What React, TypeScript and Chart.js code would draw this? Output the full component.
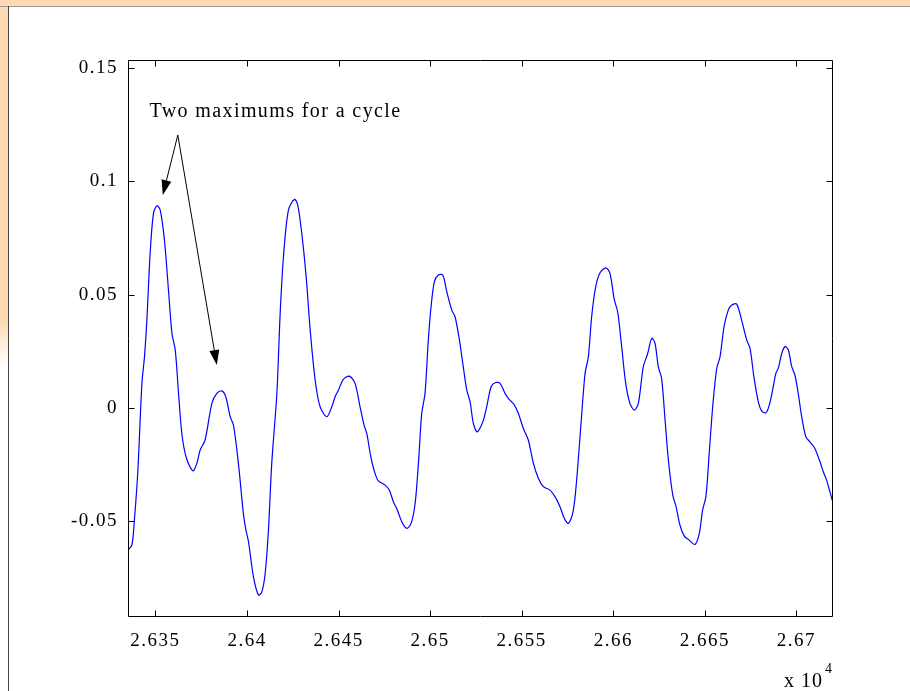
import React, { useEffect, useRef } from "react";
import { Chart, registerables } from "chart.js";

Chart.register(...registerables);

// ---- data (x in raw units, shown as x 10^4) ----
const xValues = [
  26334.9, 26337.1, 26338.5, 26340.4, 26342.6, 26344.0, 26345.3, 26347.1, 26348.9, 26350.8,
  26352.6, 26354.9, 26357.1, 26359.0, 26360.8, 26362.6, 26364.4, 26366.8, 26370.4, 26372.6,
  26374.4, 26377.1, 26380.8, 26383.5, 26386.2, 26388.4, 26390.8, 26392.6, 26395.3, 26398.0,
  26399.4, 26400.8, 26403.5, 26406.2, 26408.1, 26409.9, 26411.7, 26413.5, 26416.3, 26418.1,
  26419.9, 26422.6, 26425.9, 26427.7, 26429.9, 26432.3, 26434.5, 26437.2, 26439.9, 26443.6,
  26446.3, 26448.1, 26449.9, 26452.6, 26455.9, 26459.0, 26461.7, 26463.9, 26465.4, 26467.6,
  26469.9, 26471.7, 26475.4, 26477.7, 26479.9, 26482.1, 26484.5, 26487.2, 26489.6, 26491.8,
  26493.6, 26495.4, 26497.2, 26499.0, 26500.5, 26502.3, 26504.5, 26506.9, 26509.1, 26511.8,
  26513.6, 26516.0, 26518.1, 26520.0, 26521.8, 26523.6, 26525.5, 26526.7, 26529.1, 26530.9,
  26533.3, 26535.8, 26538.2, 26540.9, 26542.7, 26546.0, 26548.2, 26550.9, 26553.6, 26556.4,
  26559.1, 26561.8, 26565.5, 26568.2, 26570.9, 26573.3, 26575.5, 26578.2, 26580.0, 26582.4,
  26584.6, 26586.4, 26588.2, 26590.4, 26592.8, 26596.0, 26598.2, 26600.6, 26602.4, 26604.6,
  26606.8, 26609.1, 26611.5, 26613.7, 26616.4, 26618.8, 26621.0, 26622.8, 26624.6, 26626.4,
  26628.3, 26630.1, 26632.5, 26634.3, 26636.4, 26638.8, 26641.5, 26644.6, 26647.0, 26648.8,
  26650.6, 26652.4, 26654.3, 26656.5, 26658.3, 26660.5, 26662.8, 26664.7, 26667.4, 26670.1,
  26672.9, 26674.7, 26676.8, 26679.2, 26681.0, 26683.4, 26685.2, 26687.0, 26688.8, 26690.1,
  26692.0, 26693.8, 26695.6, 26697.4, 26699.2, 26701.0, 26702.9, 26705.2, 26707.4, 26710.1,
  26712.9, 26714.7, 26716.5, 26718.3, 26719.8,
];

const yValues = [
  -0.0627, -0.0605, -0.0494, -0.0274, 0.0109, 0.0226, 0.0388, 0.0683, 0.0859, 0.0893,
  0.0874, 0.0741, 0.0521, 0.033, 0.0256, 0.0065, -0.0112, -0.0218, -0.0277, -0.0244,
  -0.0185, -0.0141, 0.0021, 0.0065, 0.0076, 0.005, -0.0038, -0.0075, -0.0244, -0.0465,
  -0.0538, -0.059, -0.0744, -0.0825, -0.0811, -0.073, -0.0538, -0.0244, 0.0065, 0.0418,
  0.0668, 0.0874, 0.0921, 0.0896, 0.0771, 0.058, 0.0344, 0.0124, 0.0006, -0.0038,
  0.0006, 0.005, 0.0079, 0.0127, 0.0141, 0.0109, 0.0006, -0.0075, -0.0112, -0.0215,
  -0.0288, -0.0321, -0.034, -0.0362, -0.0413, -0.045, -0.0502, -0.0531, -0.0509, -0.0421,
  -0.0244, -0.0024, 0.0065, 0.03, 0.0447, 0.0557, 0.0587, 0.0587, 0.0513, 0.0432,
  0.0403, 0.03, 0.0182, 0.0079, 0.0028, -0.0068, -0.0105, -0.0097, -0.0053, 0.0006,
  0.0094, 0.0113, 0.0109, 0.0065, 0.0043, 0.0013, -0.0024, -0.009, -0.0141, -0.0244,
  -0.031, -0.0347, -0.0362, -0.0391, -0.0435, -0.0487, -0.0509, -0.045, -0.0318, -0.0068,
  0.0153, 0.0226, 0.0403, 0.0535, 0.0597, 0.0619, 0.0594, 0.0477, 0.0425, 0.0271,
  0.0109, 0.0021, -0.0009, 0.0021, 0.0182, 0.0241, 0.0308, 0.0286, 0.0182, 0.0131,
  -0.0053, -0.0229, -0.0384, -0.0435, -0.0516, -0.0565, -0.0583, -0.0602, -0.0553, -0.045,
  -0.0391, -0.02, 0.0006, 0.0175, 0.0226, 0.0359, 0.0432, 0.0455, 0.0459, 0.0388,
  0.03, 0.0263, 0.0138, 0.0028, -0.0012, -0.0021, 0.0013, 0.0079, 0.0153, 0.0175,
  0.0241, 0.0271, 0.0256, 0.0185, 0.0146, 0.0065, -0.0038, -0.0127, -0.0149, -0.0178,
  -0.0237, -0.0281, -0.0318, -0.0369, -0.0413,
];

const xTickValues = [26350, 26400, 26450, 26500, 26550, 26600, 26650, 26700];
const xTickLabels = ["2.635", "2.64", "2.645", "2.65", "2.655", "2.66", "2.665", "2.67"];
const yTickValues = [-0.05, 0, 0.05, 0.1, 0.15];
const yTickLabels = ["-0.05", "0", "0.05", "0.1", "0.15"];
const xLimits = [26335, 26720];
const yLimits = [-0.0922, 0.1536];

const annotationText = "Two maximums for a cycle";
const annotationTextAt = [26346.7, 0.1286];
const arrowFrom = [26362.2, 0.1205];
const arrowTips = [
  [26354.0, 0.094],
  [26383.5, 0.019],
];
const exponentBase = "x 10";
const exponentPower = "4";

const FONT = '"Liberation Serif", "Times New Roman", serif';
const PEACH = "#fdd9b2";

const framePlugin = {
  id: "matlabFrame",
  beforeDraw(chart: any) {
    chart.ctx.letterSpacing = "1.5px";
  },
  afterDraw(chart: any) {
    const { ctx, chartArea: a, scales } = chart;
    const xs = scales.x;
    const ys = scales.y;
    ctx.save();
    ctx.strokeStyle = "#000";
    ctx.lineWidth = 1;
    const L = Math.round(a.left) + 0.5;
    const R = Math.round(a.right) - 0.5;
    const T = Math.round(a.top) + 0.5;
    const B = Math.round(a.bottom) - 0.5;
    ctx.beginPath();
    ctx.rect(L, T, R - L, B - T);
    const tl = 6;
    xTickValues.forEach((v) => {
      const px = Math.round(xs.getPixelForValue(v)) + 0.5;
      ctx.moveTo(px, B);
      ctx.lineTo(px, B - tl);
      ctx.moveTo(px, T);
      ctx.lineTo(px, T + tl);
    });
    yTickValues.forEach((v) => {
      const py = Math.round(ys.getPixelForValue(v)) + 0.5;
      ctx.moveTo(L, py);
      ctx.lineTo(L + tl, py);
      ctx.moveTo(R, py);
      ctx.lineTo(R - tl, py);
    });
    ctx.stroke();

    // annotation text
    ctx.fillStyle = "#000";
    ctx.font = `20px ${FONT}`;
    ctx.letterSpacing = "1.4px";
    ctx.textAlign = "left";
    ctx.textBaseline = "alphabetic";
    ctx.fillText(
      annotationText,
      xs.getPixelForValue(annotationTextAt[0]),
      ys.getPixelForValue(annotationTextAt[1])
    );

    // arrows
    const fx = xs.getPixelForValue(arrowFrom[0]);
    const fy = ys.getPixelForValue(arrowFrom[1]);
    arrowTips.forEach(([tx, ty]) => {
      const px = xs.getPixelForValue(tx);
      const py = ys.getPixelForValue(ty);
      const ang = Math.atan2(py - fy, px - fx);
      const hl = 15;
      const hw = 5;
      const bx = px - hl * Math.cos(ang);
      const by = py - hl * Math.sin(ang);
      ctx.beginPath();
      ctx.moveTo(fx, fy);
      ctx.lineTo(bx, by);
      ctx.stroke();
      ctx.beginPath();
      ctx.moveTo(px, py);
      ctx.lineTo(bx + hw * Math.sin(ang), by - hw * Math.cos(ang));
      ctx.lineTo(bx - hw * Math.sin(ang), by + hw * Math.cos(ang));
      ctx.closePath();
      ctx.fill();
    });

    // x 10^4 multiplier
    ctx.font = `20px ${FONT}`;
    ctx.letterSpacing = "1px";
    ctx.textAlign = "right";
    ctx.fillText(exponentBase, a.right - 10, a.bottom + 70);
    ctx.font = `14px ${FONT}`;
    ctx.textAlign = "left";
    ctx.fillText(exponentPower, a.right - 8, a.bottom + 56);
    ctx.restore();
  },
};

export default function App() {
  const canvasRef = useRef<HTMLCanvasElement | null>(null);

  useEffect(() => {
    if (!canvasRef.current) return;
    const points = xValues.map((x, i) => ({ x, y: yValues[i] }));
    const chart = new Chart(canvasRef.current, {
      type: "line",
      data: {
        datasets: [
          {
            data: points,
            borderColor: "#0000ff",
            borderWidth: 1.2,
            pointRadius: 0,
            tension: 0.3,
            fill: false,
          },
        ],
      },
      options: {
        animation: false,
        responsive: false,
        events: [],
        layout: { padding: { left: 0, top: 60, right: 77, bottom: 0 } },
        plugins: {
          legend: { display: false },
          tooltip: { enabled: false },
        },
        scales: {
          x: {
            type: "linear",
            min: xLimits[0],
            max: xLimits[1],
            grid: { display: false, drawTicks: false },
            border: { display: false },
            afterBuildTicks: (s: any) => {
              s.ticks = xTickValues.map((value) => ({ value }));
            },
            afterFit: (s: any) => {
              s.height = 74;
            },
            ticks: {
              autoSkip: false,
              maxRotation: 0,
              padding: 13,
              color: "#000",
              font: { family: FONT, size: 19 },
              callback: (v: any) => {
                const i = xTickValues.indexOf(Number(v));
                return i >= 0 ? xTickLabels[i] : "";
              },
            },
          },
          y: {
            type: "linear",
            min: yLimits[0],
            max: yLimits[1],
            grid: { display: false, drawTicks: false },
            border: { display: false },
            afterBuildTicks: (s: any) => {
              s.ticks = yTickValues.map((value) => ({ value }));
            },
            afterFit: (s: any) => {
              s.width = 128;
            },
            ticks: {
              autoSkip: false,
              padding: 10,
              color: "#000",
              font: { family: FONT, size: 19 },
              callback: (v: any) => {
                const i = yTickValues.findIndex((t) => Math.abs(t - Number(v)) < 1e-9);
                return i >= 0 ? yTickLabels[i] : "";
              },
            },
          },
        },
      },
      plugins: [framePlugin],
    });
    return () => chart.destroy();
  }, []);

  return (
    <div
      style={{
        position: "fixed",
        left: 0,
        top: 0,
        width: 910,
        height: 691,
        background: "#ffffff",
        overflow: "hidden",
      }}
    >
      <div style={{ position: "absolute", left: 0, top: 0, width: 910, height: 6, background: PEACH }} />
      <div
        style={{
          position: "absolute",
          left: 0,
          top: 0,
          width: 8,
          height: 380,
          background: `linear-gradient(to bottom, ${PEACH} 0px, ${PEACH} 320px, #ffffff 365px)`,
        }}
      />
      <div style={{ position: "absolute", left: 0, top: 6, width: 910, height: 1, background: "#9a9a9a" }} />
      <div style={{ position: "absolute", left: 8, top: 6, width: 1, height: 685, background: "#444444" }} />
      <canvas
        ref={canvasRef}
        width={910}
        height={691}
        style={{ position: "absolute", left: 0, top: 0, width: 910, height: 691 }}
      />
    </div>
  );
}
